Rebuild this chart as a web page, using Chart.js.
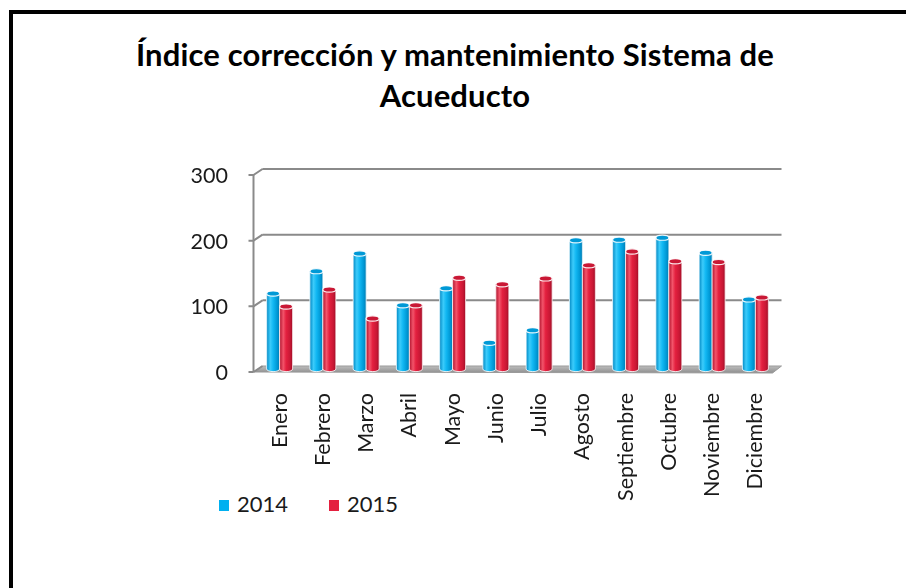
<!DOCTYPE html>
<html>
<head>
<meta charset="utf-8">
<script src="https://cdn.jsdelivr.net/npm/chart.js@4/dist/chart.umd.min.js"></script>
<style>
  html, body { margin: 0; padding: 0; background: #fff; overflow: hidden; }
  #wrap { position: relative; width: 906px; height: 588px; }
  #frame { position: absolute; left: 9px; top: 10px; width: 1000px; height: 1000px;
           border-left: 4px solid #000; border-top: 4px solid #000; box-sizing: border-box; }
  #title { position: absolute; left: 0; width: 906px; top: 34px; text-align: center;
           font-family: Lato, "Open Sans", sans-serif; font-weight: bold; font-size: 31px;
           line-height: 41px; color: #000; letter-spacing: 0.15px; }
  #title div { margin-left: 4px; }
  #legend { position: absolute; top: 490px; left: 219px; font-family: Lato, sans-serif;
            font-size: 22px; color: #1a1a1a; }
  .li { position: absolute; top: 0; white-space: nowrap; line-height: 28px; }
  .sw { display: inline-block; width: 10px; height: 11px; vertical-align: middle; margin-right: 8px; position: relative; top: -1px; }
  canvas { position: absolute; left: 0; top: 0; }
</style>
</head>
<body>
<div id="wrap">
  <div id="frame"></div>
  <div id="title"></div>
  <div id="legend"></div>
  <canvas id="c" width="906" height="588"></canvas>
</div>
<script>
// ---- data ----
const titleLines = ['Índice corrección y mantenimiento Sistema de', 'Acueducto'];
const categories = ['Enero', 'Febrero', 'Marzo', 'Abril', 'Mayo', 'Junio', 'Julio',
                    'Agosto', 'Septiembre', 'Octubre', 'Noviembre', 'Diciembre'];
const seriesNames = ['2014', '2015'];
const values2014 = [115, 149, 176, 97, 123, 40, 59, 196, 197, 200, 177, 106];
const values2015 = [95, 121, 77, 97, 139, 129, 138, 158, 179, 164, 163, 109];
const yTicks = [0, 100, 200, 300];

const colors = ['#00B0F0', '#E4203F'];
const shades = [
  ['#0088C4', '#3CCBFA', '#12B8F3', '#0099D6', '#007DB4'],
  ['#B0102B', '#F2546A', '#E4203F', '#C91835', '#A00D26']
];

// title
const tEl = document.getElementById('title');
titleLines.forEach(l => { const d = document.createElement('div'); d.textContent = l; tEl.appendChild(d); });

// legend
const lg = document.getElementById('legend');
seriesNames.forEach((n, i) => {
  const s = document.createElement('div');
  s.className = 'li';
  s.style.left = (i * 110) + 'px';
  s.innerHTML = '<span class="sw" style="background:' + colors[i] + '"></span>' + n;
  lg.appendChild(s);
});

const DX = 4.5, DY = 3;
const FONT = { family: 'Lato, "Open Sans", sans-serif', size: 21.5 };

const frame3d = {
  id: 'frame3d',
  beforeDatasetsDraw(chart) {
    const ctx = chart.ctx;
    const { left, right, top, bottom } = chart.chartArea;
    const ys = chart.scales.y;
    ctx.save();
    // floor
    ctx.beginPath();
    ctx.moveTo(left - DX, bottom + DY);
    ctx.lineTo(right - DX, bottom + DY + 1);
    ctx.lineTo(right + DX, bottom - DY);
    ctx.lineTo(left + DX, bottom - DY);
    ctx.closePath();
    const g = ctx.createLinearGradient(0, bottom - DY, 0, bottom + DY + 1);
    g.addColorStop(0, '#bdbdbd');
    g.addColorStop(1, '#8e8e8e');
    ctx.fillStyle = g;
    ctx.fill();
    ctx.strokeStyle = '#9a9a9a';
    ctx.lineWidth = 1;
    ctx.stroke();
    // gridlines on back wall + diagonals + ticks
    ctx.strokeStyle = '#8a8a8a';
    ctx.lineWidth = 2;
    ys.ticks.forEach(t => {
      const y = ys.getPixelForValue(t.value);
      ctx.beginPath();
      if (t.value !== 0) {
        ctx.moveTo(left + DX, y - DY);
        ctx.lineTo(right + DX, y - DY);
      }
      ctx.moveTo(left - DX, y + DY);
      ctx.lineTo(left + DX, y - DY);
      ctx.moveTo(left - DX - 5, y + DY);
      ctx.lineTo(left - DX, y + DY);
      ctx.stroke();
    });
    // front axis
    ctx.beginPath();
    ctx.moveTo(left - DX, top + DY);
    ctx.lineTo(left - DX, bottom + DY);
    ctx.stroke();
    ctx.restore();
  },
  afterDatasetsDraw(chart) {
    const ctx = chart.ctx;
    ctx.save();
    chart.data.datasets.forEach((ds, di) => {
      const meta = chart.getDatasetMeta(di);
      const sh = shades[di];
      meta.data.forEach(bar => {
        const p = bar.getProps(['x', 'y', 'base', 'width'], true);
        const w = p.width, l = p.x - w / 2, r = p.x + w / 2;
        const ry = 2.6;
        const grad = ctx.createLinearGradient(l, 0, r, 0);
        grad.addColorStop(0, sh[0]);
        grad.addColorStop(0.28, sh[1]);
        grad.addColorStop(0.5, sh[2]);
        grad.addColorStop(0.8, sh[3]);
        grad.addColorStop(1, sh[4]);
        // body
        ctx.beginPath();
        ctx.moveTo(l, p.y);
        ctx.lineTo(l, p.base);
        ctx.ellipse(p.x, p.base, w / 2, ry, 0, Math.PI, 0, true);
        ctx.lineTo(r, p.y);
        ctx.closePath();
        ctx.fillStyle = '#fff';
        ctx.fill();
        ctx.fillStyle = grad;
        ctx.fill();
        ctx.strokeStyle = 'rgba(255,255,255,0.75)';
        ctx.lineWidth = 1;
        ctx.stroke();
        // top
        ctx.beginPath();
        ctx.ellipse(p.x, p.y, w / 2, ry, 0, 0, Math.PI * 2);
        ctx.fillStyle = sh[3];
        ctx.fill();
        ctx.strokeStyle = 'rgba(255,255,255,0.9)';
        ctx.lineWidth = 1.2;
        ctx.stroke();
      });
    });
    ctx.restore();
  }
};

new Chart(document.getElementById('c'), {
  type: 'bar',
  data: {
    labels: categories,
    datasets: [
      { label: seriesNames[0], data: values2014, backgroundColor: colors[0], categoryPercentage: 0.6, barPercentage: 1 },
      { label: seriesNames[1], data: values2015, backgroundColor: colors[1], categoryPercentage: 0.6, barPercentage: 1 }
    ]
  },
  options: {
    responsive: false,
    animation: false,
    devicePixelRatio: 1,
    layout: { padding: { top: 172, right: 129, bottom: 0, left: 0 } },
    plugins: { legend: { display: false }, title: { display: false }, tooltip: { enabled: false } },
    scales: {
      x: {
        grid: { display: false },
        border: { display: false },
        ticks: { minRotation: 90, maxRotation: 90, autoSkip: false, padding: 16, font: FONT, color: '#1a1a1a' },
        afterFit(s) { s.height = 588 - 369; }
      },
      y: {
        min: 0, max: 300,
        afterBuildTicks(s) { s.ticks = yTicks.map(v => ({ value: v })); },
        grid: { display: false },
        border: { display: false },
        ticks: { padding: 22, labelOffset: 4, font: FONT, color: '#1a1a1a' },
        afterFit(s) { s.width = 258; }
      }
    }
  },
  plugins: [frame3d]
});
</script>
</body>
</html>
